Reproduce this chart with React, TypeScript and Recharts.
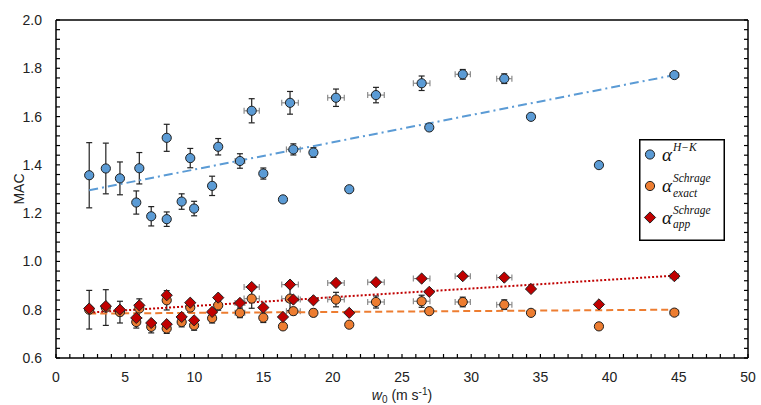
import React from "react";
import { ErrorBar, ReferenceLine, Scatter, ScatterChart, XAxis, YAxis } from "recharts";

// wind speed w0 (m s-1) for each sample
const windSpeed = [
  2.4, 3.6, 4.62, 5.8, 6.02, 6.88, 8.0, 8.0, 9.08, 9.7, 9.98, 11.28, 11.72, 13.29, 14.14,
  14.98, 16.4, 16.91, 17.15, 18.6, 20.23, 21.19, 23.12, 26.42, 26.97, 29.39, 32.39, 34.32, 39.23, 44.68
];
const windErr = [
  null, null, null, null, null, null, null, null, null, null, null, null, null, 0.35, 0.55,
  null, null, 0.6, 0.5, null, 0.6, null, 0.6, 0.6, null, 0.55, 0.55, null, null, 0.3
];

const alphaHK = [
  1.357, 1.385, 1.344, 1.244, 1.386, 1.187, 1.175, 1.512, 1.248, 1.428, 1.219, 1.313, 1.475, 1.416, 1.624,
  1.364, 1.257, 1.657, 1.464, 1.451, 1.678, 1.299, 1.689, 1.738, 1.555, 1.775, 1.757, 1.599, 1.399, 1.772
];
const alphaHKErr = [
  0.135, 0.105, 0.068, 0.048, 0.065, 0.04, 0.03, 0.056, 0.032, 0.04, 0.03, 0.04, 0.034, 0.03, 0.05,
  0.023, null, 0.047, 0.023, 0.02, 0.036, null, 0.032, 0.03, 0.01, 0.02, 0.02, null, null, null
];

const alphaExact = [
  0.8, 0.809, 0.79, 0.749, 0.805, 0.729, 0.722, 0.839, 0.749, 0.809, 0.735, 0.765, 0.818, 0.787, 0.846,
  0.767, 0.731, 0.846, 0.794, 0.787, 0.842, 0.738, 0.832, 0.835, 0.794, 0.832, 0.821, 0.787, 0.731, 0.788
];
const alphaExactErr = [
  0.08, 0.074, 0.045, 0.025, 0.04, 0.025, 0.02, 0.04, 0.02, 0.02, 0.02, 0.02, 0.02, 0.02, 0.04,
  0.02, null, 0.05, 0.015, 0.015, 0.03, null, 0.025, 0.025, null, 0.02, 0.02, null, null, null
];

const alphaApp = [
  0.805, 0.815, 0.8, 0.766, 0.818, 0.745, 0.74, 0.86, 0.77, 0.829, 0.756, 0.791, 0.85, 0.828, 0.894,
  0.809, 0.77, 0.904, 0.842, 0.839, 0.911, 0.787, 0.914, 0.929, 0.874, 0.939, 0.933, 0.886, 0.822, 0.939
];

// linear trend lines (end points)
const trendX = [2.4, 44.68];
const trendHK = [1.295, 1.772];
const trendExact = [0.784, 0.8];
const trendApp = [0.788, 0.941];

const xTicksMajor = [0, 5, 10, 15, 20, 25, 30, 35, 40, 45, 50];
const xTicksAll = Array.from({ length: 51 }, (_, i) => i);
const yTicksMajor = [0.6, 0.8, 1.0, 1.2, 1.4, 1.6, 1.8, 2.0];
const yTicksAll = Array.from({ length: 36 }, (_, i) => +(0.6 + i * 0.04).toFixed(2));

const blue = "#5b9bd5";
const orange = "#ed7d31";
const red = "#c00000";
const edge = "#1f1f1f";
const font = "'Liberation Sans', Arial, sans-serif";
const mathFont = "'Liberation Serif', 'DejaVu Serif', serif";

const toRows = (values: number[], errs: (number | null)[]) =>
  windSpeed.map((x, i) => ({ x, y: values[i], ex: windErr[i], ey: errs[i] }));

const hkRows = toRows(alphaHK, alphaHKErr);
const exactRows = toRows(alphaExact, alphaExactErr);
const appRows = toRows(alphaApp, alphaApp.map(() => null));

const circle = (fill: string) => (p: any) => (
  <circle cx={p.cx} cy={p.cy} r={4.6} fill={fill} stroke={edge} strokeWidth={1} />
);
const diamond = (p: any) => (
  <polygon
    points={`${p.cx},${p.cy - 5.6} ${p.cx + 5.6},${p.cy} ${p.cx},${p.cy + 5.6} ${p.cx - 5.6},${p.cy}`}
    fill={red}
    stroke={edge}
    strokeWidth={1}
  />
);

const tickLen = 4;

const BottomTick = ({ x, y, payload }: any) => (
  <g>
    <line x1={x} x2={x} y1={y} y2={y - tickLen} stroke="#000" strokeWidth={1.2} />
    {xTicksMajor.includes(payload.value) && (
      <text x={x} y={y + 24} textAnchor="middle" fontFamily={font} fontSize={14} fill="#222">
        {payload.value}
      </text>
    )}
  </g>
);
const TopTick = ({ x, y }: any) => (
  <line x1={x} x2={x} y1={y} y2={y + tickLen} stroke="#000" strokeWidth={1.2} />
);
const LeftTick = ({ x, y, payload }: any) => (
  <g>
    <line x1={x} x2={x + tickLen} y1={y} y2={y} stroke="#000" strokeWidth={1.2} />
    {yTicksMajor.includes(payload.value) && (
      <text x={x - 14} y={y + 5} textAnchor="end" fontFamily={font} fontSize={14} fill="#222">
        {payload.value.toFixed(1)}
      </text>
    )}
  </g>
);
const RightTick = ({ x, y }: any) => (
  <line x1={x} x2={x - tickLen} y1={y} y2={y} stroke="#000" strokeWidth={1.2} />
);

const axisLine = { stroke: "#000", strokeWidth: 1.5 };

const legendItems = [
  { sup: "H−K", sub: "", kind: "circle", color: blue },
  { sup: "Schrage", sub: "exact", kind: "circle", color: orange },
  { sup: "Schrage", sub: "app", kind: "diamond", color: red }
];

function LegendBox() {
  return (
    <svg width={86} height={102} style={{ position: "absolute", left: 639, top: 139 }}>
      <rect x={0.75} y={0.75} width={84.5} height={100.5} fill="#fff" stroke="#000" strokeWidth={1.5} />
      {legendItems.map((item, i) => {
        const cy = 15.5 + i * 31.5;
        return (
          <g key={i}>
            {item.kind === "circle" ? (
              <circle cx={11} cy={cy} r={4.6} fill={item.color} stroke={edge} strokeWidth={1} />
            ) : (
              <polygon
                points={`11,${cy - 5.6} ${16.6},${cy} 11,${cy + 5.6} ${5.4},${cy}`}
                fill={item.color}
                stroke={edge}
                strokeWidth={1}
              />
            )}
            <text x={23} y={cy + 6} fontFamily={mathFont} fontStyle="italic" fontSize={19} fill="#111">
              α
            </text>
            <text x={34} y={cy - 4} fontFamily={mathFont} fontStyle="italic" fontSize={11.5} fill="#111">
              {item.sup}
            </text>
            {item.sub && (
              <text x={34} y={cy + 10.5} fontFamily={mathFont} fontStyle="italic" fontSize={11.5} fill="#111">
                {item.sub}
              </text>
            )}
          </g>
        );
      })}
    </svg>
  );
}

const xTitle = (props: any) => {
  const vb = props.viewBox;
  return (
    <text x={vb.x + vb.width / 2} y={vb.y + 42} textAnchor="middle" fontFamily={font} fontSize={14} fill="#222">
      <tspan fontStyle="italic">w</tspan>
      <tspan fontSize={10} dy={3}>0</tspan>
      <tspan dy={-3}> (m s</tspan>
      <tspan fontSize={10} dy={-5}>-1</tspan>
      <tspan dy={5}>)</tspan>
    </text>
  );
};

const yTitle = (props: any) => {
  const vb = props.viewBox;
  const cx = 24;
  const cy = vb.y + vb.height / 2;
  return (
    <text x={cx} y={cy} transform={`rotate(-90, ${cx}, ${cy})`} textAnchor="middle" fontFamily={font} fontSize={14} fill="#222">
      MAC
    </text>
  );
};

export default function App() {
  return (
    <div style={{ position: "absolute", left: 0, top: 0, width: 761, height: 405, background: "#fff" }}>
      <ScatterChart width={761} height={405} margin={{ top: 10, right: 3, bottom: 17, left: 16 }}>
        <XAxis
          xAxisId="x"
          dataKey="x"
          type="number"
          domain={[0, 50]}
          allowDataOverflow
          ticks={xTicksAll}
          interval={0}
          height={30}
          tickSize={0}
          tickMargin={0}
          tickLine={false}
          axisLine={axisLine}
          tick={(p: any) => <BottomTick {...p} />}
          label={xTitle}
        />
        <XAxis
          xAxisId="top"
          orientation="top"
          type="number"
          domain={[0, 50]}
          allowDataOverflow
          ticks={xTicksAll}
          interval={0}
          height={10}
          tickSize={0}
          tickMargin={0}
          tickLine={false}
          axisLine={axisLine}
          tick={(p: any) => <TopTick {...p} />}
        />
        <YAxis
          yAxisId="y"
          dataKey="y"
          type="number"
          domain={[0.6, 2.0]}
          allowDataOverflow
          ticks={yTicksAll}
          interval={0}
          width={40}
          tickSize={0}
          tickMargin={0}
          tickLine={false}
          axisLine={axisLine}
          tick={(p: any) => <LeftTick {...p} />}
          label={yTitle}
        />
        <YAxis
          yAxisId="right"
          orientation="right"
          type="number"
          domain={[0.6, 2.0]}
          allowDataOverflow
          ticks={yTicksAll}
          interval={0}
          width={10}
          tickSize={0}
          tickMargin={0}
          tickLine={false}
          axisLine={axisLine}
          tick={(p: any) => <RightTick {...p} />}
        />
        <Scatter xAxisId="x" yAxisId="y" data={hkRows} shape={circle(blue)} isAnimationActive={false}>
          <ErrorBar dataKey="ex" direction="x" width={3} stroke="#8c8c8c" strokeWidth={1.2} />
          <ErrorBar dataKey="ey" direction="y" width={3} stroke="#222" strokeWidth={1.2} />
        </Scatter>
        <Scatter xAxisId="x" yAxisId="y" data={exactRows} shape={circle(orange)} isAnimationActive={false}>
          <ErrorBar dataKey="ex" direction="x" width={3} stroke="#8c8c8c" strokeWidth={1.2} />
          <ErrorBar dataKey="ey" direction="y" width={3} stroke="#222" strokeWidth={1.2} />
        </Scatter>
        <Scatter xAxisId="x" yAxisId="y" data={appRows} shape={diamond} isAnimationActive={false}>
          <ErrorBar dataKey="ex" direction="x" width={3} stroke="#8c8c8c" strokeWidth={1.2} />
        </Scatter>
        <ReferenceLine
          xAxisId="x"
          yAxisId="y"
          segment={[{ x: trendX[0], y: trendHK[0] }, { x: trendX[1], y: trendHK[1] }]}
          stroke={blue}
          strokeWidth={2}
          strokeDasharray="9 4 2 4"
          ifOverflow="visible"
        />
        <ReferenceLine
          xAxisId="x"
          yAxisId="y"
          segment={[{ x: trendX[0], y: trendExact[0] }, { x: trendX[1], y: trendExact[1] }]}
          stroke={orange}
          strokeWidth={2}
          strokeDasharray="7 4"
          ifOverflow="visible"
        />
        <ReferenceLine
          xAxisId="x"
          yAxisId="y"
          segment={[{ x: trendX[0], y: trendApp[0] }, { x: trendX[1], y: trendApp[1] }]}
          stroke={red}
          strokeWidth={2}
          strokeDasharray="2 2"
          ifOverflow="visible"
        />
      </ScatterChart>
      <LegendBox />
    </div>
  );
}
